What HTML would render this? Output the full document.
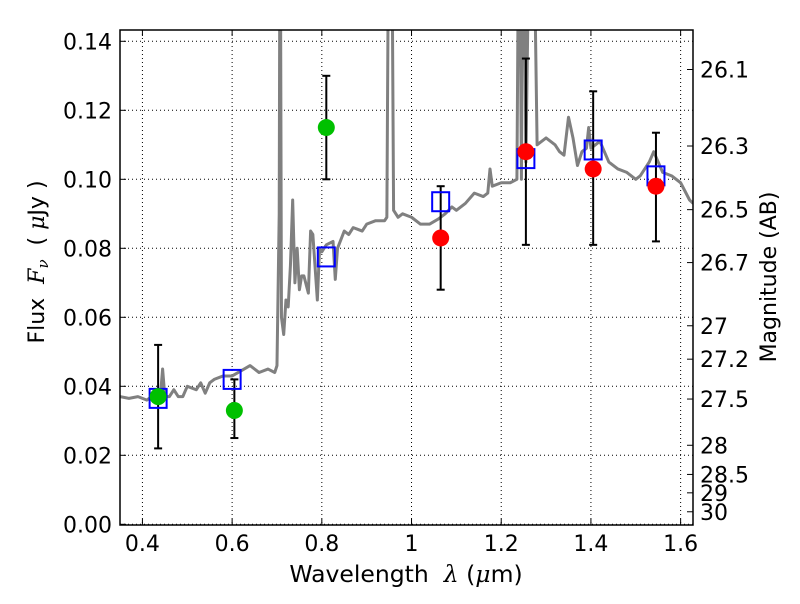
<!DOCTYPE html>
<html><head><meta charset="utf-8"><style>
body{margin:0;background:#fff;font-family:"DejaVu Sans","Liberation Sans",sans-serif}
svg text{font-family:"DejaVu Sans","Liberation Sans",sans-serif;font-size:22px;fill:#000;white-space:pre}
</style></head><body>
<svg id="chart" width="800" height="600">
<defs><clipPath id="clip"><rect x="120" y="30" width="573" height="495"/></clipPath></defs>
<g id="grid"></g>
<g id="spec" clip-path="url(#clip)"></g>
<g id="marks"></g>
<rect x="120" y="30" width="573" height="495" fill="none" stroke="#000" stroke-width="1.5"/>
<g id="ticks"></g>
<text x="406" y="582" text-anchor="middle" style="font-size:23.5px">Wavelength  <tspan font-family="DejaVu Serif" font-style="italic">λ</tspan> (<tspan font-family="DejaVu Serif" font-style="italic">μ</tspan>m)</text>
<text transform="translate(44,262) rotate(-90)" text-anchor="middle">Flux  <tspan font-family="DejaVu Serif" font-style="italic">F<tspan font-size="15" dy="4">ν</tspan></tspan><tspan dy="-4">  ( </tspan><tspan font-family="DejaVu Serif" font-style="italic">μ</tspan>Jy )</text>
<text transform="translate(776,277) rotate(-90)" text-anchor="middle">Magnitude (AB)</text>
</svg>
<script>
const xTicks=[0.4,0.6,0.8,1.0,1.2,1.4,1.6];
const xTickLabels=["0.4","0.6","0.8","1","1.2","1.4","1.6"];
const yTicks=[0,0.02,0.04,0.06,0.08,0.10,0.12,0.14];
const yTickLabels=["0.00","0.02","0.04","0.06","0.08","0.10","0.12","0.14"];
const magTicks=[26.1,26.3,26.5,26.7,27,27.2,27.5,28,28.5,29,30];
const specWl=[0.35,0.37,0.39,0.41,0.42,0.43,0.44,0.445,0.45,0.46,0.47,0.48,0.49,0.50,0.52,0.53,0.54,0.55,0.56,0.58,0.60,0.62,0.64,0.66,0.68,0.695,0.70,0.705,0.707,0.71,0.715,0.72,0.725,0.73,0.735,0.74,0.745,0.75,0.755,0.76,0.77,0.775,0.78,0.79,0.795,0.80,0.81,0.825,0.83,0.835,0.85,0.86,0.87,0.88,0.89,0.90,0.92,0.94,0.945,0.95,0.955,0.96,0.97,0.98,1.0,1.02,1.04,1.06,1.075,1.09,1.10,1.12,1.14,1.16,1.17,1.175,1.18,1.2,1.22,1.235,1.24,1.245,1.25,1.255,1.265,1.27,1.28,1.3,1.32,1.33,1.34,1.35,1.36,1.37,1.38,1.39,1.395,1.40,1.42,1.44,1.46,1.48,1.50,1.51,1.53,1.54,1.56,1.58,1.60,1.62,1.628];
const specFlux=[0.037,0.0365,0.037,0.036,0.037,0.0365,0.037,0.045,0.037,0.037,0.039,0.037,0.037,0.040,0.039,0.041,0.038,0.041,0.042,0.043,0.043,0.0445,0.046,0.044,0.045,0.044,0.046,0.09,0.2,0.06,0.055,0.065,0.063,0.075,0.094,0.07,0.08,0.068,0.072,0.072,0.067,0.085,0.084,0.065,0.08,0.079,0.081,0.082,0.071,0.08,0.085,0.084,0.086,0.0855,0.085,0.087,0.088,0.088,0.089,0.2,0.2,0.091,0.089,0.09,0.089,0.087,0.087,0.0885,0.09,0.092,0.091,0.093,0.096,0.095,0.096,0.103,0.098,0.099,0.099,0.1,0.2,0.1,0.2,0.105,0.2,0.2,0.11,0.112,0.11,0.108,0.107,0.118,0.112,0.104,0.108,0.109,0.115,0.109,0.111,0.105,0.103,0.102,0.100,0.101,0.105,0.108,0.102,0.101,0.099,0.094,0.093];
const obsWl=[0.435,0.605,0.81,1.065,1.255,1.405,1.545];
const obsFlux=[0.037,0.033,0.115,0.083,0.108,0.103,0.098];
const obsLow=[0.022,0.025,0.100,0.068,0.081,0.081,0.082];
const obsHigh=[0.052,0.042,0.130,0.098,0.135,0.1255,0.1135];
const obsColor=["#00c000","#00c000","#00c000","red","red","red","red"];
const modelWl=[0.435,0.60,0.81,1.065,1.255,1.405,1.545];
const modelFlux=[0.0365,0.042,0.0775,0.0935,0.106,0.1085,0.101];
const NS="http://www.w3.org/2000/svg";
const X=w=>120+(w-0.35)*448.5;
const Y=f=>524.3-f*3450;
function mk(tag,attrs,parent){const e=document.createElementNS(NS,tag);for(const k in attrs)e.setAttribute(k,attrs[k]);parent.appendChild(e);return e;}
const grid=document.getElementById('grid'),ticks=document.getElementById('ticks');
xTicks.forEach((v,i)=>{
  const l=mk('line',{x1:X(v),x2:X(v),y1:30,y2:525,stroke:'#000','stroke-width':1,'stroke-dasharray':'1,3'},grid);
  
  
  mk('line',{x1:X(v),x2:X(v),y1:525,y2:519,stroke:'#000'},ticks);
  mk('line',{x1:X(v),x2:X(v),y1:30,y2:36,stroke:'#000'},ticks);
  const t=mk('text',{x:X(v),y:551,'text-anchor':'middle'},ticks);t.textContent=xTickLabels[i];
  
  
});
yTicks.forEach((v,i)=>{
  const l=mk('line',{x1:120,x2:693,y1:Y(v),y2:Y(v),stroke:'#000','stroke-width':1,'stroke-dasharray':'1,3'},grid);
  
  
  mk('line',{x1:120,x2:126,y1:Y(v),y2:Y(v),stroke:'#000'},ticks);
  const t=mk('text',{x:112,y:Y(v)+8,'text-anchor':'end'},ticks);t.textContent=yTickLabels[i];
  
  
});
magTicks.forEach(m=>{
  const f=Math.pow(10,(23.9-m)/2.5);const y=Y(f);
  mk('line',{x1:693,x2:687,y1:y,y2:y,stroke:'#000'},ticks);
  const t=mk('text',{x:700,y:y+8},ticks);t.textContent=String(m);
  
  
});
const spec=document.getElementById('spec');
const p=mk('polyline',{points:specWl.map((w,i)=>X(w)+','+Y(specFlux[i])).join(' '),fill:'none',stroke:'#808080','stroke-width':3,'stroke-linejoin':'round'},spec);


const marks=document.getElementById('marks');
obsWl.forEach((w,i)=>{
  const x=X(w);
  const e=mk('g',{},marks);
  
  
  mk('line',{x1:x,x2:x,y1:Y(obsLow[i]),y2:Y(obsHigh[i]),stroke:'#000','stroke-width':2},e);
  mk('line',{x1:x-4,x2:x+4,y1:Y(obsLow[i]),y2:Y(obsLow[i]),stroke:'#000','stroke-width':2},e);
  mk('line',{x1:x-4,x2:x+4,y1:Y(obsHigh[i]),y2:Y(obsHigh[i]),stroke:'#000','stroke-width':2},e);
});
modelWl.forEach((w,i)=>{
  const r=mk('rect',{x:X(w)-8.5,y:Y(modelFlux[i])-9.5,width:17,height:19,fill:'none',stroke:'#0000ff','stroke-width':2},marks);
  
  
});
obsWl.forEach((w,i)=>{
  const c=mk('circle',{cx:X(w),cy:Y(obsFlux[i]),r:8.5,fill:obsColor[i]},marks);
  
  
});
</script>
</body></html>
